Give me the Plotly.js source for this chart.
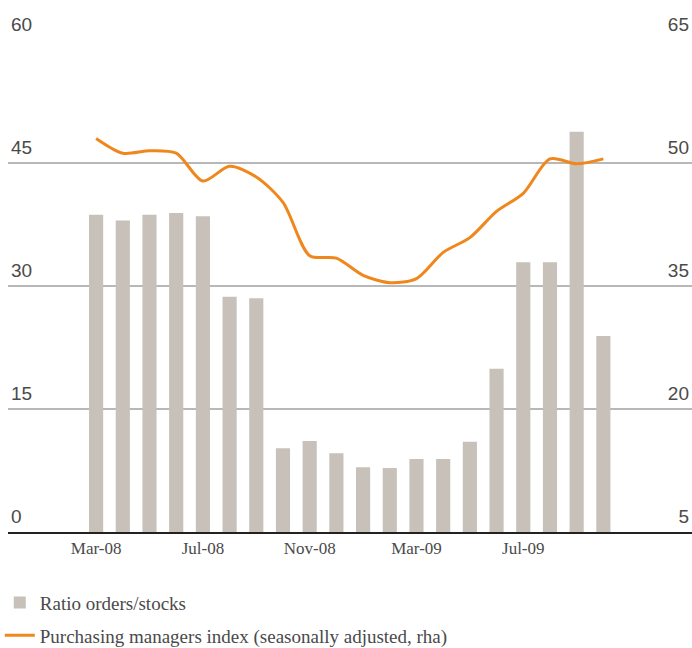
<!DOCTYPE html>
<html>
<head>
<meta charset="utf-8">
<script src="https://cdn.plot.ly/plotly-3.0.1.min.js"></script>
<style>html,body{margin:0;padding:0;background:#fff;}#chart{width:692px;height:648px;}</style>
</head>
<body>
<div id="chart"></div>
<script>
var months = ["Mar-08","Apr-08","May-08","Jun-08","Jul-08","Aug-08","Sep-08","Oct-08","Nov-08","Dec-08",
              "Jan-09","Feb-09","Mar-09","Apr-09","May-09","Jun-09","Jul-09","Aug-09","Sep-09","Oct-09"];
var ratioOrdersStocks = [38.7,38.0,38.7,38.9,38.5,28.7,28.5,10.2,11.1,9.6,
                         7.9,7.8,8.9,8.9,11.0,19.9,32.9,32.9,48.8,23.9];
var pmi = [53.0,51.2,51.5,51.2,47.8,49.6,48.3,45.2,38.7,38.4,
           36.3,35.4,35.9,39.1,40.9,44.1,46.3,50.5,49.9,50.5];
var leftTicks = [0,15,30,45,60];
var rightTicks = [5,20,35,50,65];
var xTickLabels = months.filter(function(m,i){return i%4===0;});

var sansFam = "Liberation Sans, Arial, sans-serif";
var serifFam = "Liberation Serif, Times New Roman, serif";
var txt = "#4a4a4a";

var traces = [
  {type:"bar", x:months, y:ratioOrdersStocks, name:"Ratio orders/stocks",
   marker:{color:"#c8c1b9"}, yaxis:"y", hoverinfo:"x+y", legendgroup:"a"},
  {type:"scatter", mode:"lines", x:months, y:pmi, yaxis:"y2", legendgroup:"b",
   name:"Purchasing managers index (seasonally adjusted, rha)",
   line:{color:"#f0871c", width:3, shape:"spline", smoothing:0.8}}
];

var layout = {
  width:692, height:648,
  margin:{l:8, r:0, t:40, b:116, autoexpand:false},
  paper_bgcolor:"#fff", plot_bgcolor:"#fff",
  font:{family:sansFam, color:txt},
  bargap:0.47,
  showlegend:true,
  legend:{x:-0.012, y:-0.105, xanchor:"left", yanchor:"top", orientation:"v",
          font:{size:19, color:txt, family:serifFam}, tracegroupgap:5, itemwidth:30, bgcolor:"rgba(0,0,0,0)"},
  xaxis:{type:"category", range:[-3.3,22.32], tickmode:"array", tickvals:xTickLabels, ticktext:xTickLabels,
         showgrid:false, showline:true, linecolor:"#222", linewidth:2, ticks:"",
         tickfont:{size:17, color:txt, family:serifFam}, fixedrange:true, automargin:false},
  yaxis:{range:[0,60], tickmode:"array", tickvals:leftTicks, side:"left",
         ticklabelposition:"inside top", ticklabeloverflow:"allow", automargin:false, ticklabelshift:-2,
         showgrid:true, gridcolor:"#b8b8b8", gridwidth:1.5, zeroline:false, showline:false, ticks:"",
         tickfont:{size:19, color:txt}},
  yaxis2:{range:[5,65], tickmode:"array", tickvals:rightTicks, side:"right", overlaying:"y",
          ticklabelposition:"inside top", ticklabeloverflow:"allow", automargin:false, ticklabelshift:-2,
          showgrid:false, zeroline:false, showline:false, ticks:"",
          tickfont:{size:19, color:txt}}
};

Plotly.newPlot("chart", traces, layout, {displayModeBar:false, staticPlot:true});
</script>
</body>
</html>
